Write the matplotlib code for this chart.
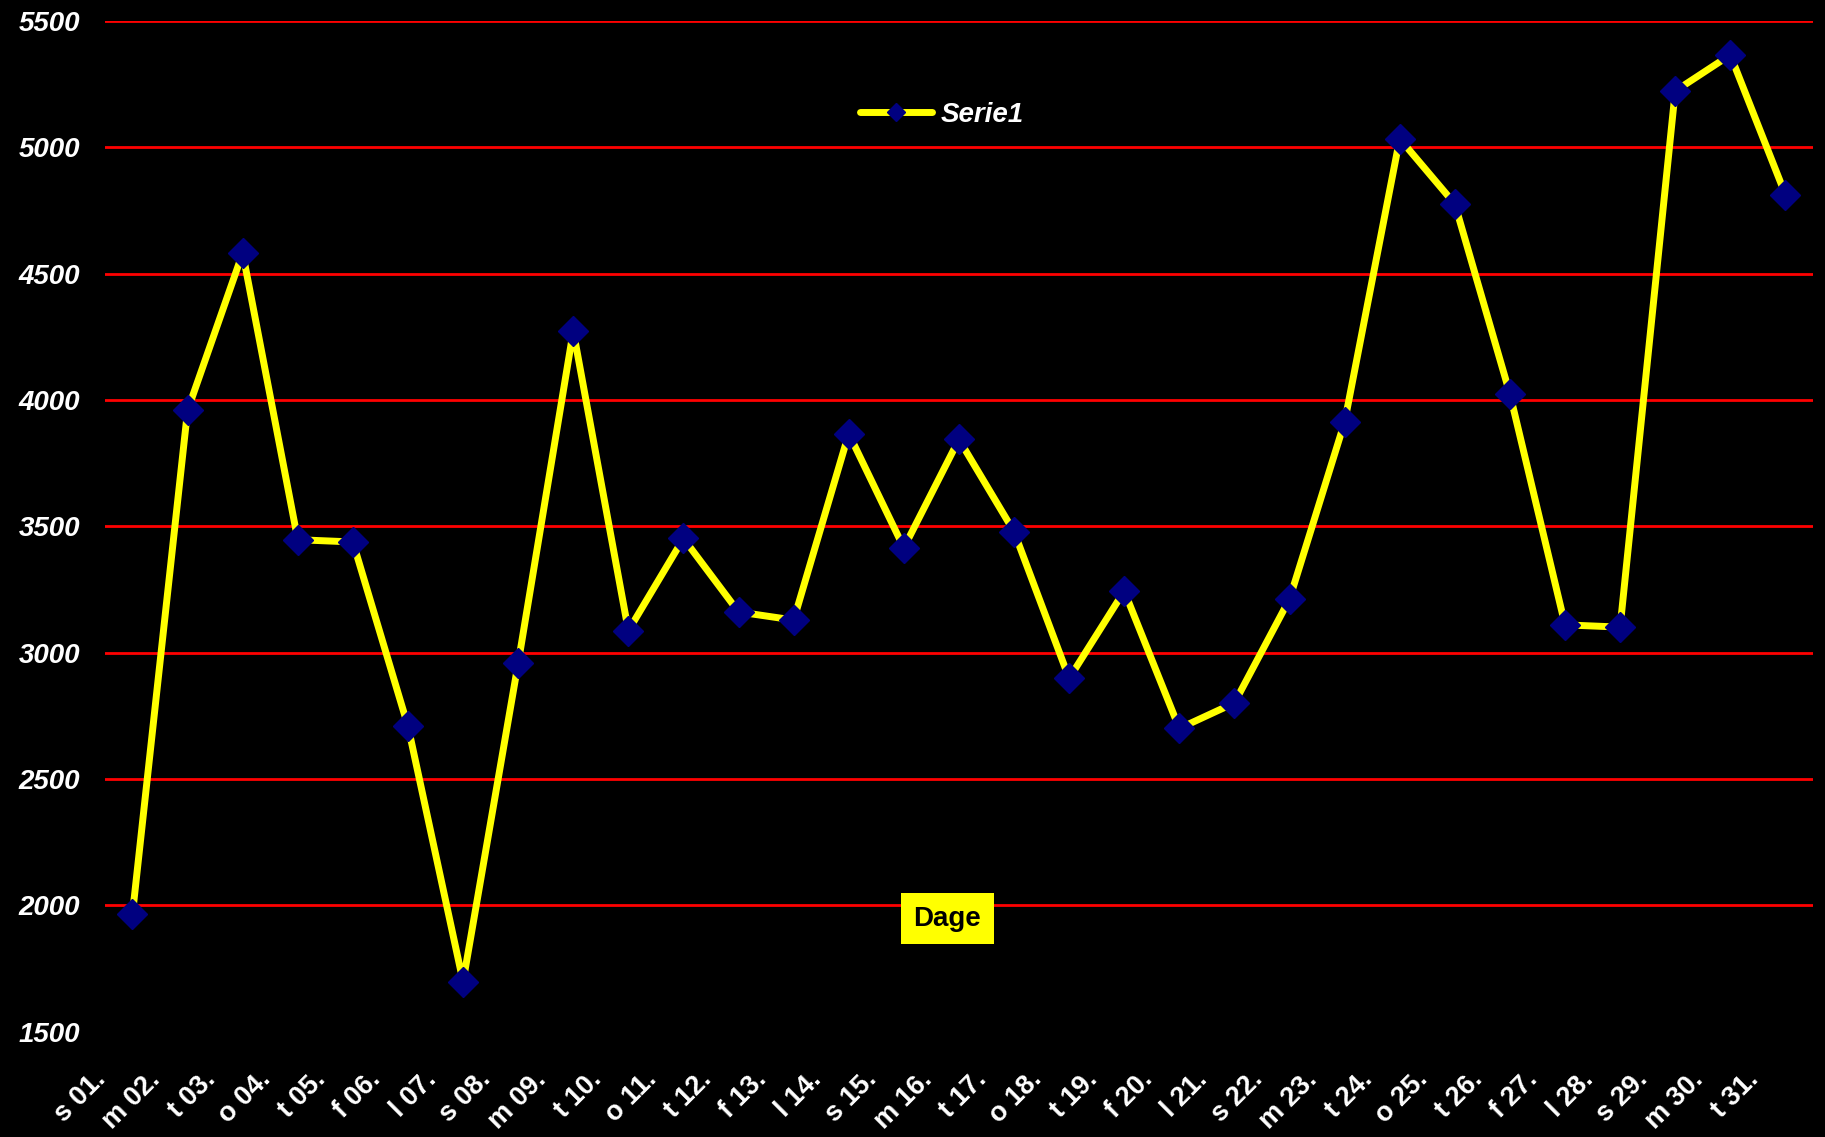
import matplotlib.pyplot as plt
import matplotlib.transforms as mtransforms
import numpy as np

# data
dage = ["s 01.", "m 02.", "t 03.", "o 04.", "t 05.", "f 06.", "l 07.", "s 08.",
        "m 09.", "t 10.", "o 11.", "t 12.", "f 13.", "l 14.", "s 15.", "m 16.",
        "t 17.", "o 18.", "t 19.", "f 20.", "l 21.", "s 22.", "m 23.", "t 24.",
        "o 25.", "t 26.", "f 27.", "l 28.", "s 29.", "m 30.", "t 31."]
serie1 = [1966, 3959, 4582, 3447, 3438, 2709, 1698, 2958,
          4273, 3087, 3452, 3161, 3129, 3867, 3415, 3844,
          3479, 2898, 3244, 2700, 2801, 3212, 3913, 5034,
          4776, 4024, 3110, 3101, 5223, 5366, 4813]
y_ticks = [1500, 2000, 2500, 3000, 3500, 4000, 4500, 5000, 5500]

plt.rcParams['font.family'] = ['Liberation Sans', 'DejaVu Sans']

fig = plt.figure(figsize=(18.25, 11.37), dpi=100, facecolor='black')
ax = fig.add_axes([0.0575, 0.0927, 0.9359, 0.8888])
ax.set_facecolor('black')

x = np.arange(len(dage))
ax.plot(x, serie1, color='#FFFF00', linewidth=5, marker='D', markersize=15,
        markerfacecolor='#000080', markeredgecolor='#000080', label='Serie1',
        solid_capstyle='round', zorder=3)

ax.set_xlim(-0.5, len(dage) - 0.5)
ax.set_ylim(1500, 5500)
ax.set_yticks(y_ticks)
ax.set_yticklabels([str(v) for v in y_ticks], color='white', fontsize=20,
                   fontweight='bold', fontstyle='italic')
ax.tick_params(axis='y', length=0, pad=18)

ax.set_xticks(x)
ax.set_xticklabels(dage, rotation=45, color='white', fontsize=19.5,
                   fontweight='bold', ha='right', va='center',
                   rotation_mode='anchor')
ax.tick_params(axis='x', length=0, pad=0)
# decalage des etiquettes comme dans Excel
off = mtransforms.ScaledTranslation(-0.31, -0.44, fig.dpi_scale_trans)
for lab in ax.get_xticklabels():
    lab.set_transform(lab.get_transform() + off)

ax.grid(axis='y', color='#FF0000', linewidth=2)
ax.get_ygridlines()[0].set_visible(False)
ax.set_axisbelow(True)
for s in ax.spines.values():
    s.set_visible(False)

leg = ax.legend(loc='center', bbox_to_anchor=(0.49, 0.907), frameon=False,
                handlelength=2.6, handletextpad=0.3, markerscale=0.6,
                prop={'size': 20, 'weight': 'bold', 'style': 'italic'})
for t in leg.get_texts():
    t.set_color('white')

fig.text(0.519, 0.192, 'Dage', color='black', fontsize=20, fontweight='bold',
         ha='center', va='center',
         bbox=dict(facecolor='#FFFF00', edgecolor='none', pad=9))

fig.savefig('out.png', dpi=100, facecolor='black')
